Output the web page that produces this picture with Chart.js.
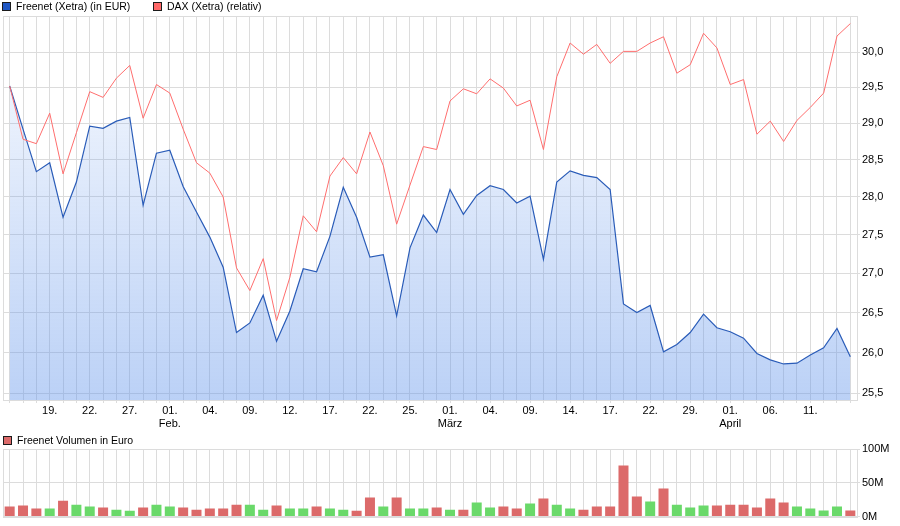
<!DOCTYPE html>
<html>
<head>
<meta charset="utf-8">
<script src="https://cdn.jsdelivr.net/npm/chart.js@4"></script>
<style>
  body { margin: 0; background: #fff; font-family: "Liberation Sans", Arial, sans-serif; font-size: 11px; color: #000; }
  #wrap { position: relative; width: 900px; height: 526px; overflow: hidden; }
  .legend { position: absolute; display: flex; align-items: center; white-space: nowrap; line-height: 11px; font-size: 10.5px; }
  .box { width: 7px; height: 7px; border: 1px solid #1b1b1b; margin-right: 5px; }
  #main { position: absolute; left: 0; top: 0; width: 900px; height: 432px; }
  #vol { position: absolute; left: 0; top: 430px; width: 900px; height: 96px; }
</style>
</head>
<body>
<div id="wrap">
  <div id="main"><canvas id="mainChart"></canvas></div>
  <div id="vol"><canvas id="volChart"></canvas></div>
  <div class="legend" style="left:2px;top:1px"><span class="box" style="background:#1f57c3"></span>Freenet (Xetra) (in EUR)</div>
  <div class="legend" style="left:153px;top:1px"><span class="box" style="background:#ff6868"></span>DAX (Xetra) (relativ)</div>
  <div class="legend" style="left:3px;top:435px"><span class="box" style="background:#dc6a6a"></span>Freenet Volumen in Euro</div>
</div>
<script>
// tick labels, one every third trading day
const tickLabels = ['19.', '22.', '27.', ['01.', 'Feb.'], '04.', '09.', '12.', '17.', '22.', '25.',
  ['01.', 'März'], '04.', '09.', '14.', '17.', '22.', '29.', ['01.', 'April'], '06.', '11.']

const yTicks = [25.5, 26, 26.5, 27, 27.5, 28, 28.5, 29, 29.5, 30]
const volTicks = [0, 50, 100]

// Freenet close in EUR
const freenet = [
  29.52, 28.92, 28.34, 28.46, 27.73, 28.20, 28.96, 28.93, 29.03, 29.08,
  27.89, 28.59, 28.63, 28.14, 27.80, 27.47, 27.08, 26.25, 26.37, 26.72,
  26.14, 26.52, 27.06, 27.02, 27.48, 28.13, 27.73, 27.21, 27.24, 26.46,
  27.33, 27.76, 27.53, 28.10, 27.77, 28.02, 28.15, 28.10, 27.92, 28.01,
  27.18, 28.20, 28.35, 28.29, 28.26, 28.10, 26.61, 26.50, 26.59, 26.01,
  26.10, 26.25, 26.48, 26.31, 26.26, 26.18, 25.99, 25.91, 25.86, 25.87,
  25.97, 26.06, 26.30, 25.95
]

// DAX relative to Freenet start
const dax = [
  29.52, 28.78, 28.72, 29.14, 28.31, 28.87, 29.44, 29.36, 29.63, 29.81,
  29.07, 29.54, 29.42, 28.92, 28.46, 28.32, 28.00, 27.07, 26.78, 27.19,
  26.40, 26.95, 27.75, 27.54, 28.28, 28.53, 28.31, 28.88, 28.42, 27.64,
  28.16, 28.68, 28.64, 29.31, 29.48, 29.41, 29.62, 29.49, 29.24, 29.32,
  28.64, 29.65, 30.13, 29.97, 30.11, 29.84, 30.01, 30.01, 30.13, 30.22,
  29.70, 29.82, 30.27, 30.06, 29.54, 29.61, 28.85, 29.03, 28.75, 29.04,
  29.22, 29.42, 30.23, 30.41
]

// volume in million EUR
const volume = [
  14.9, 16.3, 11.9, 11.9, 23.3, 17.3, 14.9, 13.4, 9.9, 8.4,
  13.4, 17.3, 14.9, 13.4, 9.9, 11.9, 11.9, 17.3, 17.3, 9.9,
  16.3, 11.9, 11.9, 14.9, 11.9, 9.9, 8.4, 28.2, 14.9, 28.2,
  11.9, 11.9, 13.4, 9.9, 9.9, 20.8, 13.4, 14.9, 11.9, 19.3,
  26.7, 17.3, 11.9, 9.9, 14.9, 14.9, 75.7, 29.7, 22.3, 41.6,
  17.3, 13.4, 16.3, 16.3, 17.3, 17.3, 13.4, 26.7, 20.8, 14.9,
  11.9, 8.9, 14.9, 8.9
]

const categories = freenet.map((v, i) => (i > 0 && i % 3 === 0 && tickLabels[i / 3 - 1]) || '')
const gridColor = '#dcdcdc'
const font = { family: '"Liberation Sans", Arial, sans-serif', size: 11 }

Chart.defaults.animation = false
Chart.defaults.font = font
Chart.defaults.color = '#000'

const frame = {
  id: 'frame',
  beforeDatasetsDraw(chart) {
    const a = chart.chartArea
    const ctx = chart.ctx
    ctx.save()
    ctx.strokeStyle = gridColor
    ctx.lineWidth = 1
    ctx.strokeRect(Math.round(a.left) + 0.5, Math.round(a.top) + 0.5, Math.round(a.right - a.left), Math.round(a.bottom - a.top))
    ctx.restore()
  }
}

const areaFill = (c) => {
  const a = c.chart.chartArea
  if (!a) return null
  const g = c.chart.ctx.createLinearGradient(0, a.top, 0, a.bottom)
  g.addColorStop(0, 'rgba(100,150,235,0.04)')
  g.addColorStop(1, 'rgba(100,150,235,0.44)')
  return g
}

new Chart(document.getElementById('mainChart'), {
  type: 'line',
  data: {
    labels: categories,
    datasets: [
      {
        label: 'DAX (Xetra) (relativ)',
        data: dax,
        borderColor: '#ff6e6e',
        borderWidth: 1,
        pointRadius: 0,
        fill: false,
        tension: 0
      },
      {
        label: 'Freenet (Xetra) (in EUR)',
        data: freenet,
        borderColor: '#2a5cb8',
        borderWidth: 1.2,
        backgroundColor: areaFill,
        pointRadius: 0,
        fill: 'start',
        tension: 0
      }
    ]
  },
  options: {
    responsive: true,
    maintainAspectRatio: false,
    layout: { padding: { left: 3, top: 16, right: 0, bottom: 0 } },
    plugins: { legend: { display: false }, tooltip: { enabled: false } },
    scales: {
      x: {
        offset: true,
        grid: { color: gridColor, offset: false, tickLength: 3 },
        border: { color: gridColor },
        ticks: { autoSkip: false, maxRotation: 0, padding: 1, font: font },
        afterFit(s) { s.height = 32 }
      },
      y: {
        type: 'logarithmic',
        position: 'right',
        min: 25.42,
        max: 30.52,
        afterBuildTicks(s) { s.ticks = yTicks.map((v) => ({ value: v })) },
        grid: { color: gridColor, tickLength: 3 },
        border: { color: gridColor },
        ticks: { padding: 2, font: font, callback: (v) => v.toFixed(1).replace('.', ',') },
        afterFit(s) { s.width = 43 }
      }
    }
  },
  plugins: [frame]
})

new Chart(document.getElementById('volChart'), {
  type: 'bar',
  data: {
    labels: categories,
    datasets: [{
      label: 'Freenet Volumen in Euro',
      data: volume,
      backgroundColor: volume.map((v, i) => (i > 0 && freenet[i] > freenet[i - 1]) ? '#6ad96a' : '#dc6a6a'),
      barPercentage: 0.75,
      categoryPercentage: 1
    }]
  },
  options: {
    responsive: true,
    maintainAspectRatio: false,
    layout: { padding: { left: 3, top: 19, right: 0, bottom: 0 } },
    plugins: { legend: { display: false }, tooltip: { enabled: false } },
    scales: {
      x: {
        grid: { color: gridColor, offset: false, drawTicks: false },
        border: { color: gridColor },
        ticks: { display: false },
        afterFit(s) { s.height = 9.5 }
      },
      y: {
        position: 'right',
        min: 0,
        max: 100,
        afterBuildTicks(s) { s.ticks = volTicks.map((v) => ({ value: v })) },
        grid: { color: gridColor, tickLength: 3 },
        border: { color: gridColor },
        ticks: { padding: 2, font: font, callback: (v) => v + 'M' },
        afterFit(s) { s.width = 43 }
      }
    }
  },
  plugins: [frame]
})
</script>
</body>
</html>
